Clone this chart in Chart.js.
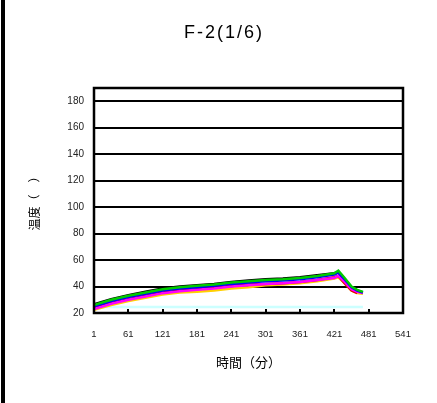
<!DOCTYPE html>
<html>
<head>
<meta charset="utf-8">
<script src="https://cdn.jsdelivr.net/npm/chart.js@4/dist/chart.umd.min.js"></script>
<style>
html,body{margin:0;padding:0;background:#fff;}
#wrap{position:relative;width:437px;height:403px;}
</style>
</head>
<body>
<div id="wrap"><canvas id="c" width="437" height="403"></canvas></div>
<script>
const chartTitle = "F-2(1/6)";
const xTitle = "時間（分）";
const yTitle = "温度（　）";
const xTicks = [1, 61, 121, 181, 241, 301, 361, 421, 481, 541];
const yTicks = [20, 40, 60, 80, 100, 120, 140, 160, 180];

const times   = [1, 31, 61, 91, 121, 151, 181, 211, 241, 271, 301, 331, 361, 391, 421, 428, 438, 451, 461, 471];
const green   = [26, 30, 33, 35.5, 38, 39.5, 40.5, 41.5, 43, 44, 45, 45.5, 46.5, 48, 50, 52, 47, 40, 37.5, 36];
const black   = [26.5, 30.5, 33.5, 36, 38.5, 40, 41, 42, 43.5, 44.5, 45.5, 46, 47, 48.5, 50, 51, 45, 39, 37, null];
const blue    = [25, 29, 32, 34.5, 37, 38.5, 39.5, 40.5, 42, 43, 44, 44.5, 45.5, 47, 49, 50.5, 46, 39.5, 37, 35.5];
const red     = [24, 27.5, 30.5, 33, 35.5, 37, 38, 39, 40.5, 41.5, 42, 42.5, 43.5, 45, 47, 48, 43, 37, 35, null];
const magenta = [23, 27, 30, 32.5, 35, 36.5, 37.5, 38.5, 40, 41, 42, 42.5, 43.5, 45, 46.5, 48, 44, 38, 36, 35];
const yellow  = [22.5, 26, 29, 31.5, 34, 35.5, 36, 37, 38.5, 39.5, 41, 41.5, 42.5, 44, 46, 47, 43, 37, 35, 34.5];
const cyan    = [24.5, 24.5, 24.5, 24.5, 24.5, 24.5, 24.5, 24.5, 24.5, 24.5, 24.5, 24.5, 24.5, 24.5, 24.5, 24.5, 24.5, 24.5, 24.5, 24.5];

function pts(arr){ return times.map((t,i)=>({x:t, y:arr[i]})); }
function ds(label, arr, color){
  return {label, data: pts(arr), borderColor: color, backgroundColor: color,
    borderWidth: 2.5, pointRadius: 0, tension: 0, fill: false, spanGaps: false};
}

const framePlugin = {
  id: 'frame',
  beforeDraw(chart){
    const ctx = chart.ctx;
    ctx.save();
    ctx.fillStyle = '#fff';
    ctx.fillRect(0,0,chart.width,chart.height);
    ctx.fillStyle = '#000';
    ctx.fillRect(1,0,4,chart.height);
    ctx.font = '18px "Liberation Sans", Arial, sans-serif';
    ctx.letterSpacing = '2px';
    ctx.textAlign = 'center';
    ctx.textBaseline = 'middle';
    ctx.fillText(chartTitle, 224, 33);
    ctx.restore();
  },
  afterDraw(chart){
    const ctx = chart.ctx, a = chart.chartArea, xs = chart.scales.x;
    ctx.save();
    ctx.strokeStyle = '#000';
    ctx.lineWidth = 2.5;
    ctx.strokeRect(a.left, a.top, a.right - a.left, a.bottom - a.top);
    ctx.lineWidth = 2;
    xTicks.forEach(v=>{
      const px = Math.round(xs.getPixelForValue(v));
      ctx.beginPath(); ctx.moveTo(px, a.bottom); ctx.lineTo(px, a.bottom - 4); ctx.stroke();
    });
    ctx.restore();
  }
};

new Chart(document.getElementById('c'), {
  type: 'line',
  data: { datasets: [
    ds('A', green, '#00cc00'),
    ds('B', blue, '#0000ff'),
    ds('C', magenta, '#ff00ff'),
    ds('D', red, '#e00000'),
    ds('E', yellow, '#ffd000'),
    ds('F', black, '#000000'),
    ds('G', cyan, '#ccffff')
  ]},
  options: {
    responsive: false,
    animation: false,
    layout: { padding: { left: 4, right: 34, top: 88, bottom: 0 } },
    plugins: { legend: { display: false }, tooltip: { enabled: false }, title: { display: false } },
    scales: {
      x: {
        type: 'linear', min: 1, max: 541,
        afterBuildTicks(s){ s.ticks = xTicks.map(v=>({value:v})); },
        afterFit(s){ s.height = 90; },
        grid: { display: false, drawTicks: false },
        border: { display: false },
        ticks: { padding: 16, maxRotation: 0, autoSkip: false, color: '#222',
          font: { family: '"Liberation Sans", Arial, sans-serif', size: 9.5 },
          callback: (v)=> String(v) },
        title: { display: true, text: xTitle, color: '#000',
          font: { family: '"Noto Sans CJK JP", sans-serif', size: 13 },
          padding: { top: 0, bottom: 33 } }
      },
      y: {
        min: 20, max: 190,
        afterBuildTicks(s){ s.ticks = yTicks.map(v=>({value:v})); },
        afterFit(s){ s.width = 90; },
        grid: { color: '#000', lineWidth: 2, drawTicks: false },
        border: { display: false },
        ticks: { padding: 10, color: '#222',
          font: { family: '"Liberation Sans", Arial, sans-serif', size: 10 } },
        title: { display: true, text: yTitle, color: '#000',
          font: { family: '"Noto Sans CJK JP", sans-serif', size: 12 },
          padding: { top: 23, bottom: 0 } }
      }
    }
  },
  plugins: [framePlugin]
});
</script>
</body>
</html>
